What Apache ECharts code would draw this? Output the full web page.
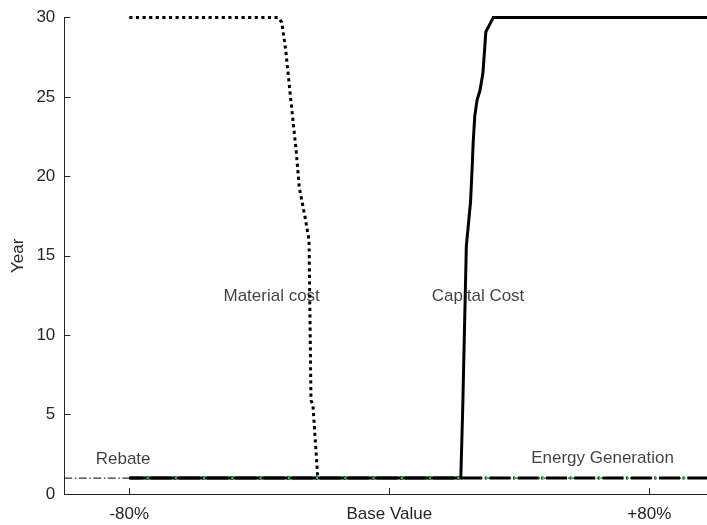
<!DOCTYPE html>
<html>
<head>
<meta charset="utf-8">
<script src="https://cdn.jsdelivr.net/npm/echarts@6/dist/echarts.min.js"></script>
<style>
  html, body { margin: 0; padding: 0; background: #fff; }
  #chart { width: 707px; height: 525px; }
</style>
</head>
<body>
<div id="chart"></div>
<script>
// Sensitivity of payback year to parameter change (% from base value)
const xTickValues = [-80, 0, 80];
const xTickLabels = ['-80%', 'Base Value', '+80%'];
const yTicks = [0, 5, 10, 15, 20, 25, 30];

// [change %, year]
const rebate = [[-100, 1], [100, 1]];
const energyGeneration = [[-80, 1], [100, 1]];
const capitalCost = [
  [-80, 1], [22.0, 1], [22.6, 5.5], [23.7, 15.6], [24.3, 16.9], [25.0, 18.4],
  [25.5, 20.6], [25.8, 22.1], [26.3, 23.8], [27.0, 24.8], [27.9, 25.4],
  [28.8, 26.5], [29.4, 28.2], [29.7, 29.1], [30.0, 29.2], [32.0, 30], [100, 30]
];
const materialCost = [
  [-80, 30], [-34.2, 30], [-33.1, 29.7], [-31.9, 28.0], [-30.3, 24.8],
  [-28.7, 21.7], [-27.7, 19.3], [-25.9, 17.4], [-24.7, 16.0], [-24.1, 5.9],
  [-23.5, 5.6], [-22.0, 1]
];
const baseline = [[-80, 1], [100, 1]];

// text annotations: [x, y, text]
const annotations = [
  [-81.9, 2.2, 'Rebate'],
  [-36.2, 12.45, 'Material cost'],
  [27.3, 12.45, 'Capital Cost'],
  [65.6, 2.25, 'Energy Generation']
];

const FONT = "'Liberation Sans', Arial, sans-serif";
const AXIS = '#262626';

const chart = echarts.init(document.getElementById('chart'));
chart.setOption({
  animation: false,
  backgroundColor: '#fff',
  textStyle: { fontFamily: FONT },
  grid: { left: 64.3, top: 17.5, right: 0, bottom: 31 },
  xAxis: {
    type: 'value', min: -100, max: 97.75,
    axisLine: { show: true, onZero: false, lineStyle: { color: AXIS, width: 1 } },
    axisTick: { show: true, inside: true, length: 6, customValues: xTickValues, lineStyle: { color: AXIS } },
    axisLabel: {
      customValues: xTickValues, margin: 12, fontSize: 17, color: AXIS, fontFamily: FONT,
      formatter: v => xTickLabels[xTickValues.indexOf(v)]
    },
    splitLine: { show: false }
  },
  yAxis: {
    type: 'value', min: 0, max: 30, interval: 5,
    name: 'Year', nameLocation: 'middle', nameGap: 37, nameRotate: 90,
    nameMoveOverlap: false,
    nameTextStyle: { fontSize: 17, color: AXIS, fontFamily: FONT },
    axisLine: { show: true, onZero: false, lineStyle: { color: AXIS, width: 1 } },
    axisTick: { show: true, inside: true, length: 6, lineStyle: { color: AXIS } },
    axisLabel: { margin: 9, fontSize: 17, color: AXIS, fontFamily: FONT,
      formatter: v => (yTicks.indexOf(v) >= 0 ? String(v) : '') },
    splitLine: { show: false }
  },
  series: [
    {
      type: 'scatter', name: 'labels', z: 1, symbolSize: 0, silent: true,
      data: annotations,
      label: { show: true, position: 'inside', formatter: p => p.data[2],
        fontSize: 17, color: '#111', fontFamily: FONT }
    },
    {
      type: 'line', name: 'Rebate', z: 2, symbol: 'none', data: rebate,
      lineStyle: { color: '#000', width: 1, type: [8, 2.5, 1.5, 2.5] }
    },
    {
      type: 'line', name: 'Energy Generation', z: 3, symbol: 'none', data: energyGeneration,
      lineStyle: { color: '#000', width: 3, type: [21, 2.5, 2, 2.75], dashOffset: 7, cap: 'butt' }
    },
    {
      type: 'line', name: 'Capital Cost', z: 4, symbol: 'none', data: capitalCost,
      lineStyle: { color: '#000', width: 3, join: 'miter' }
    },
    {
      type: 'line', name: 'Material cost', z: 5, symbol: 'none', data: materialCost,
      lineStyle: { color: '#000', width: 3, type: [3.2, 3.4], cap: 'butt' }
    },
    {
      type: 'line', name: 'Base', z: 6, symbol: 'none', data: baseline,
      lineStyle: { color: '#12e012', width: 2, type: [2, 26.25], dashOffset: 11 }
    }
  ]
});
</script>
</body>
</html>
